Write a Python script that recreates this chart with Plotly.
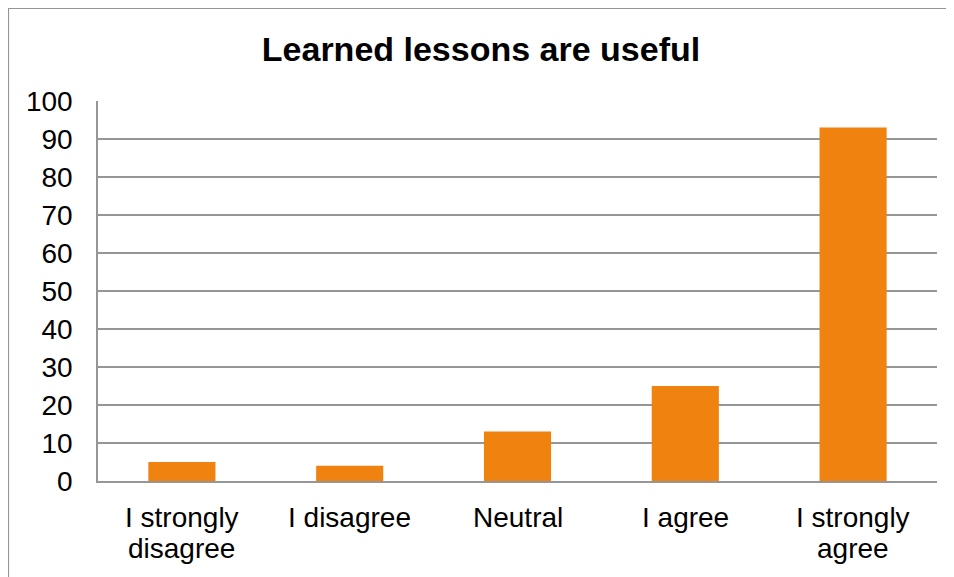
import plotly.graph_objects as go

categories = ["I strongly<br>disagree", "I disagree", "Neutral", "I agree", "I strongly<br>agree"]
values = [5, 4, 13, 25, 93]
y_ticks = list(range(0, 101, 10))

# page has an 8px body margin; figure sized so it fills the window
W, H = 946, 569
L, R, T, B = 90, 17, 93, 96
pw, ph = W - L - R, H - T - B
LABEL_FONT = 28
LINE_STEP = 31

fig = go.Figure(go.Bar(x=categories, y=values, marker=dict(color="#F0820F", line=dict(width=0))))

fig.update_layout(
    width=W, height=H,
    margin=dict(l=L, r=R, t=T, b=B),
    paper_bgcolor="white", plot_bgcolor="white",
    bargap=0.6,
    font=dict(family="Liberation Sans, Arial, sans-serif", size=LABEL_FONT, color="black"),
    title=dict(text="<b>Learned lessons are useful</b>", x=0.5, xanchor="center",
               y=1 - 41 / H, yanchor="middle", yref="container",
               font=dict(size=34, color="black")),
    showlegend=False,
)
fig.update_yaxes(range=[0, 100], tickvals=y_ticks, showgrid=True, gridcolor="#969696", gridwidth=1.5,
                 showline=True, linecolor="#969696", linewidth=1.5, zeroline=False,
                 ticks="", ticklabelstandoff=18, tickfont=dict(size=LABEL_FONT))
fig.update_xaxes(showline=True, linecolor="#969696", linewidth=1.5, ticks="",
                 showticklabels=False)

for cat in categories:
    for i, line in enumerate(cat.split("<br>")):
        fig.add_annotation(x=cat, xref="x", y=0, yref="paper", text=line, showarrow=False,
                           xanchor="center", yanchor="top", yshift=-(19 + i * LINE_STEP),
                           font=dict(size=LABEL_FONT, color="black"))

x0 = (0.5 - L) / pw
x1 = (W + 10 - L) / pw
y1 = (H - B - 0.5) / ph
y0 = (H - B - H - 10) / ph
fig.add_shape(type="rect", xref="paper", yref="paper", x0=x0, x1=x1, y0=y0, y1=y1,
              line=dict(color="#969696", width=1.2), fillcolor="rgba(0,0,0,0)", layer="below")

fig.write_html("out.html")
